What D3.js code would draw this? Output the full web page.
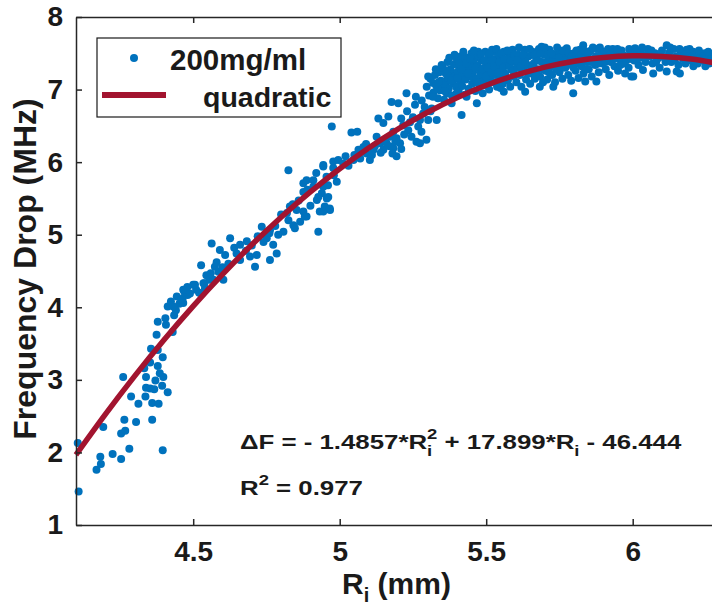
<!DOCTYPE html>
<html>
<head>
<meta charset="utf-8">
<script src="https://cdn.jsdelivr.net/npm/d3@7"></script>
<style>
  body { margin: 0; background: #fff; }
  svg { display: block; font-family: "Liberation Sans", Arial, sans-serif; }
</style>
</head>
<body>
<svg id="chart"></svg>
<script>
var width = 712;
var height = 613;

// axis ticks
var xTicks = [4.5, 5, 5.5, 6];
var yTicks = [1, 2, 3, 4, 5, 6, 7, 8];

// quadratic fit
var fitRi = [4.1, 4.2, 4.3, 4.4, 4.5, 4.6, 4.7, 4.8, 4.9, 5.0, 5.1, 5.2, 5.3, 5.4, 5.5, 5.6, 5.7, 5.8, 5.9, 6.0, 6.1, 6.2, 6.3];
var fitDF = [1.967, 2.524, 3.051, 3.549, 4.017, 4.454, 4.862, 5.241, 5.589, 5.908, 6.198, 6.458, 6.688, 6.888, 7.059, 7.198, 7.310, 7.391, 7.443, 7.465, 7.457, 7.420, 7.353];

// 200mg/ml measurements [Ri, dF]
var lowPoints = [
  [4.106,2.13],[4.109,1.46],[4.17,1.76],[4.185,1.84],[4.183,1.94],[4.225,1.98],[4.254,1.91],[4.282,2.05],
  [4.396,2.03],[4.193,2.35],[4.254,2.26],[4.268,2.30],[4.265,2.45],[4.305,2.42],[4.36,2.45],[4.313,2.67],
  [4.36,2.68],[4.382,2.67],[4.288,2.77],[4.337,2.77],[4.339,2.89],[4.353,2.88],[4.367,2.87],[4.413,2.83],
  [4.394,2.92],[4.261,3.04],[4.339,3.04],[4.371,2.99],[4.386,3.09],[4.398,3.04],[4.379,3.19],[4.396,3.31],
  [4.353,3.24],[4.333,3.16],[4.356,3.43],[4.379,3.41],[4.375,3.62],[4.379,3.80],[4.407,3.76],[4.405,3.85],
  [4.43,3.66],[4.413,4.01],[4.424,4.08],[4.441,3.96],[4.453,4.05],[4.464,4.12],[4.47,4.21],[4.481,4.17],
  [4.435,3.89],[4.432,4.01],[4.466,4.06],[4.444,4.15],[4.466,4.24],[4.489,4.19],[4.46,4.10],[4.48,4.28]
];

var midPoints = [
  [4.50,4.31],[4.51,4.24],[4.538,4.33],[4.555,4.38],[4.527,4.58],[4.545,4.44],[4.574,4.56],[4.586,4.49],
  [4.569,4.38],[4.603,4.38],[4.535,4.33],[4.506,4.31],[4.563,4.88],[4.591,4.79],[4.609,4.72],[4.648,4.74],
  [4.66,4.65],[4.694,4.70],[4.683,4.91],[4.717,4.72],[4.626,4.95],[4.711,4.56],[4.762,4.65],[4.734,5.11],
  [4.762,5.06],[4.751,4.95],[4.773,4.86],[4.785,4.74],[4.808,5.04],[4.825,5.20],[4.83,5.39],[4.853,5.34],
  [4.876,5.32],[4.887,5.25],[4.865,5.18],[4.842,5.13],[4.847,5.09],[4.825,5.89],[4.944,5.96],[4.978,6.01],
  [4.876,5.71],[4.91,5.75],[4.955,5.80],[4.939,5.57],[4.956,5.50],[4.922,5.48],[4.967,5.34],[4.944,5.32],
  [4.927,5.04],[4.881,5.25],[4.932,5.32],[4.949,5.39],[4.966,5.36],[4.887,5.75],[4.91,5.66],[4.944,5.66],
  [4.961,5.52],[4.927,5.52],[4.876,5.59],[4.944,5.94],[4.978,5.92],[4.995,6.03],[4.99,5.73],[4.973,6.49],
  [4.52,4.20],[4.54,4.26],[4.56,4.47],[4.58,4.62],[4.60,4.55],[4.62,4.60],[4.64,4.82],[4.66,4.86],
  [4.68,4.78],[4.70,4.85],[4.72,4.98],[4.74,4.90],[4.76,5.02],[4.78,5.12],[4.79,5.00],[4.80,5.28],
  [4.82,5.30],[4.84,5.42],[4.86,5.47],[4.89,5.62],[4.90,5.40],[4.92,5.85],[4.96,5.68],[4.98,5.82]
];

var risePoints = [
  [5.04,6.41],[5.06,6.42],[5.012,5.98],[5.047,6.03],[5.064,6.17],[5.081,6.21],[5.092,6.12],[5.103,6.03],
  [5.115,6.17],[5.138,6.26],[5.149,6.17],[5.16,6.26],[5.172,6.35],[5.183,6.19],[5.194,6.08],[5.206,6.26],
  [5.126,6.35],[5.132,6.60],[5.149,6.54],[5.166,6.63],[5.183,6.42],[5.194,6.33],[5.177,6.83],[5.2,6.81],
  [5.228,6.95],[5.257,6.79],[5.274,6.58],[5.262,6.28],[5.296,6.31],[5.234,6.44],[5.217,6.51],[5.285,6.67],
  [5.302,6.58],[5.268,6.49],[5.279,6.42],[5.274,6.26],[5.02,6.08],[5.03,5.95],[5.05,6.10],[5.07,6.05],
  [5.09,6.25],[5.11,6.10],[5.12,6.22],[5.14,6.13],[5.15,6.30],[5.17,6.22],[5.18,6.12],[5.19,6.28],
  [5.21,6.18],[5.22,6.38],[5.24,6.55],[5.25,6.62],[5.23,6.70],[5.21,6.60],[5.26,6.90],[5.28,6.85],
  [5.29,6.76],[5.31,6.70],[5.245,6.35],[5.314,6.74],[5.331,6.58]
];

var bandPoints = [
  [5.297,7.04],[5.319,7.09],[5.342,6.99],[5.365,7.13],[5.388,7.22],[5.41,7.32],[5.433,7.27],[5.456,7.36],
  [5.479,7.27],[5.502,7.34],[5.524,7.27],[5.365,6.95],[5.399,6.95],[5.433,6.90],[5.468,6.81],[5.416,6.65],
  [5.382,6.81],[5.473,7.52],[5.524,7.52],[5.549,7.02],[5.56,6.97],
  [5.305,6.92],[5.31,7.15],[5.32,6.96],[5.325,7.20],[5.33,7.05],[5.335,6.88],[5.34,7.24],[5.345,7.12],[5.35,7.02],
  [5.352,7.30],[5.356,6.86],[5.36,7.06],[5.362,7.22],[5.368,7.38],[5.372,7.01],[5.375,7.16],[5.378,7.28],
  [5.383,6.92],[5.386,7.09],[5.39,7.35],[5.394,7.18],[5.397,7.04],[5.40,7.42],
  [5.403,7.25],[5.406,6.98],[5.41,7.12],[5.414,7.46],[5.418,7.05],[5.42,7.20],[5.424,7.38],[5.428,6.93],
  [5.43,7.14],[5.436,7.44],[5.44,7.01],[5.443,7.30],[5.447,7.18],[5.45,7.50],
  [5.452,7.08],[5.455,7.24],[5.46,7.42],[5.463,6.98],[5.466,7.15],[5.47,7.33],[5.474,7.47],[5.477,7.05],
  [5.48,7.20],[5.485,7.40],[5.488,6.95],[5.49,7.12],[5.494,7.30],[5.497,7.52],[5.50,7.06],
  [5.503,7.22],[5.507,7.44],[5.51,7.00],[5.513,7.15],[5.517,7.36],[5.52,7.55],[5.526,7.10],[5.53,7.42],
  [5.533,7.20],[5.537,7.04],[5.54,7.32],[5.544,7.48],[5.548,7.16],[5.55,7.28],
  [5.553,7.40],[5.557,7.08],[5.56,7.52],[5.565,7.22],[5.57,7.35],[5.574,7.13],[5.578,7.46],[5.582,7.04],
  [5.586,7.28],[5.59,7.55],[5.594,7.18],[5.598,7.38],
  [5.302,7.18],[5.318,6.90],[5.328,7.28],[5.338,7.10],[5.348,7.34],[5.358,6.98],[5.366,7.26],[5.374,7.44],
  [5.381,7.12],[5.392,7.48],[5.401,7.16],[5.408,7.36],[5.416,7.28],[5.422,7.52],[5.432,7.36],[5.438,7.22],
  [5.445,7.42],[5.458,7.54],[5.462,7.30],[5.468,7.10],[5.482,7.48],[5.486,7.28],[5.492,7.40],[5.499,7.18],
  [5.505,7.30],[5.512,7.50],[5.518,7.24],[5.522,7.40],[5.528,7.32],[5.535,7.56],[5.542,7.24],[5.546,7.38],
  [5.552,7.50],[5.558,7.30],[5.562,7.42],[5.568,7.14],[5.572,7.54],[5.58,7.32],[5.584,7.40],[5.592,7.26],
  [5.596,7.48]
];

var plateauPoints = [
  [5.633,6.97],[5.683,7.04],[5.729,7.04],[5.797,6.95],[5.838,7.11],[5.876,7.11],[5.689,7.59],[5.831,7.61],
  [5.995,7.18],
  [5.603,7.10],[5.607,7.30],[5.61,7.48],[5.615,7.20],[5.62,7.04],[5.624,7.40],[5.628,7.26],[5.632,7.55],
  [5.636,7.14],[5.64,7.34],[5.645,7.46],[5.65,7.08],[5.654,7.22],[5.658,7.52],[5.662,7.36],[5.666,7.15],
  [5.67,7.44],[5.675,7.28],[5.68,7.56],[5.684,7.18],[5.69,7.38],[5.694,7.10],[5.698,7.48],[5.703,7.26],
  [5.708,7.14],[5.712,7.42],[5.716,7.55],[5.72,7.32],[5.725,7.20],[5.73,7.46],[5.735,7.10],[5.74,7.36],
  [5.745,7.52],[5.75,7.24],[5.755,7.40],[5.76,7.15],[5.765,7.48],[5.77,7.30],[5.775,7.57],[5.78,7.20],
  [5.785,7.42],[5.79,7.12],[5.795,7.35],[5.80,7.50],[5.805,7.26],[5.81,7.44],[5.815,7.16],[5.82,7.55],
  [5.826,7.32],[5.832,7.22],[5.838,7.46],[5.844,7.38],[5.85,7.28],[5.855,7.53],[5.86,7.18],[5.866,7.42],
  [5.872,7.34],[5.878,7.56],[5.884,7.24],[5.89,7.47],[5.896,7.36],[5.902,7.52],[5.908,7.28],[5.914,7.44],
  [5.92,7.20],[5.926,7.38],[5.932,7.56],[5.938,7.32],[5.944,7.48],[5.95,7.26],[5.956,7.42],[5.962,7.54],
  [5.968,7.36],[5.974,7.22],[5.98,7.46],[5.986,7.30],[5.992,7.52],
  [5.605,7.40],[5.612,7.58],[5.618,7.32],[5.626,7.48],[5.634,7.38],[5.642,7.22],[5.648,7.56],[5.656,7.30],
  [5.664,7.48],[5.672,7.22],[5.678,7.40],[5.686,7.50],[5.692,7.28],[5.70,7.58],[5.706,7.36],[5.714,7.24],
  [5.722,7.50],[5.728,7.38],[5.738,7.28],[5.742,7.58],[5.748,7.44],[5.758,7.30],[5.762,7.54],[5.768,7.40],
  [5.778,7.34],[5.782,7.50],[5.792,7.46],[5.798,7.30],[5.808,7.54],[5.818,7.36],[5.824,7.48],[5.834,7.54],
  [5.842,7.28],[5.848,7.50],[5.858,7.38],[5.864,7.58],[5.874,7.46],[5.882,7.36],[5.888,7.58],[5.898,7.44],
  [5.906,7.38],[5.916,7.56],[5.924,7.48],[5.936,7.42],[5.948,7.56],[5.958,7.34],[5.966,7.48],[5.978,7.40],
  [5.988,7.56],[5.996,7.42]
];

var tailPoints = [
  [6.002,7.18],[6.035,7.27],[6.07,7.22],[6.116,7.25],[6.15,7.25],[6.207,7.32],[6.248,7.32],[6.008,7.57],
  [6.116,7.61],[6.184,7.55],[6.161,7.22],
  [6.005,7.40],[6.012,7.48],[6.02,7.34],[6.028,7.52],[6.036,7.44],[6.044,7.38],[6.052,7.56],[6.06,7.46],
  [6.068,7.36],[6.076,7.50],[6.084,7.42],[6.092,7.30],[6.10,7.54],[6.108,7.44],[6.124,7.50],[6.132,7.38],
  [6.14,7.56],[6.148,7.46],[6.156,7.34],[6.164,7.50],[6.172,7.42],[6.18,7.36],[6.19,7.48],[6.198,7.40],
  [6.206,7.52],[6.214,7.44],[6.222,7.36],[6.23,7.48],[6.238,7.40],[6.246,7.50],[6.254,7.42],[6.262,7.36],
  [6.27,7.46],[6.278,7.40],[6.29,7.44],
  [6.016,7.42],[6.032,7.58],[6.048,7.48],[6.064,7.54],[6.08,7.38],[6.096,7.48],[6.112,7.38],[6.128,7.58],
  [6.144,7.42],[6.16,7.56],[6.176,7.48],[6.194,7.56],[6.21,7.40],[6.226,7.54],[6.242,7.46],[6.258,7.52],
  [6.274,7.38],[6.286,7.50]
];

var scatterPoints = lowPoints.concat(midPoints, risePoints, bandPoints, plateauPoints, tailPoints);

var dotColor = "#0072BD";
var fitColor = "#A2142F";
var inkColor = "#1a1a1a";
var axisColor = "#262626";

var svg = d3.select("#chart")
    .attr("width", width)
    .attr("height", height);

var xScale = d3.scaleLinear()
    .domain([4.1, 6.3])
    .range([76, 720.6]);

var yScale = d3.scaleLinear()
    .domain([1, 8])
    .range([525, 17]);

// scatter
svg.append("g")
  .selectAll("circle")
  .data(scatterPoints)
  .enter()
  .append("circle")
  .attr("cx", function(d) { return xScale(d[0]); })
  .attr("cy", function(d) { return yScale(d[1]); })
  .attr("r", 4)
  .attr("fill", dotColor);

// fit curve
var line = d3.line()
  .x(function(d, i) { return xScale(fitRi[i]); })
  .y(function(d) { return yScale(d); })
  .curve(d3.curveNatural);

svg.append("path")
  .datum(fitDF)
  .attr("d", line)
  .attr("fill", "none")
  .attr("stroke", fitColor)
  .attr("stroke-width", 5.5);

// axes
var xAxis = svg.append("g")
  .attr("transform", "translate(0,525)")
  .call(d3.axisBottom(xScale).tickValues(xTicks).tickSize(-6).tickSizeOuter(0).tickPadding(16)
    .tickFormat(function(d) { return d; }));

var xAxisTop = svg.append("g")
  .attr("transform", "translate(0,17)")
  .call(d3.axisTop(xScale).tickValues(xTicks).tickSize(-6).tickSizeOuter(0).tickFormat(""));

var yAxis = svg.append("g")
  .attr("transform", "translate(76,0)")
  .call(d3.axisLeft(yScale).tickValues(yTicks).tickSize(-6).tickSizeOuter(0).tickPadding(13)
    .tickFormat(d3.format("d")));

svg.selectAll(".domain, .tick line")
  .attr("stroke", axisColor)
  .attr("stroke-width", 1.5);

svg.selectAll(".tick text")
  .attr("fill", inkColor)
  .style("font-size", "28px")
  .style("font-weight", "bold");

// axis labels
var xLabel = svg.append("text")
  .attr("x", 342)
  .attr("y", 594)
  .attr("fill", inkColor)
  .style("font-size", "30px")
  .style("font-weight", "bold");
xLabel.append("tspan").text("R");
xLabel.append("tspan").attr("dy", 8).style("font-size", "20px").text("i");
xLabel.append("tspan").attr("dy", -8).text(" (mm)");

svg.append("text")
  .attr("transform", "translate(36,269) rotate(-90)")
  .attr("text-anchor", "middle")
  .attr("fill", inkColor)
  .style("font-size", "32px")
  .style("font-weight", "bold")
  .text("Frequency Drop (MHz)");

// equation
var eq = svg.append("text")
  .attr("transform", "translate(240,449) scale(1.23,1)")
  .attr("fill", inkColor)
  .style("font-size", "21px")
  .style("font-weight", "bold");
eq.append("tspan").text("\u0394F = - 1.4857*R");
eq.append("tspan").attr("dy", 7).style("font-size", "15px").text("i");
eq.append("tspan").attr("dx", -4.2).attr("dy", -17).style("font-size", "15px").text("2");
eq.append("tspan").attr("dy", 10).text(" + 17.899*R");
eq.append("tspan").attr("dy", 7).style("font-size", "15px").text("i");
eq.append("tspan").attr("dy", -7).text(" - 46.444");

var r2 = svg.append("text")
  .attr("transform", "translate(240,495) scale(1.23,1)")
  .attr("fill", inkColor)
  .style("font-size", "21px")
  .style("font-weight", "bold");
r2.append("tspan").text("R");
r2.append("tspan").attr("dy", -10).style("font-size", "15px").text("2");
r2.append("tspan").attr("dy", 10).text(" = 0.977");

// legend
var legend = svg.append("g");

legend.append("rect")
  .attr("x", 97)
  .attr("y", 38)
  .attr("width", 244)
  .attr("height", 79)
  .attr("fill", "#fff")
  .attr("stroke", inkColor)
  .attr("stroke-width", 1.2);

legend.append("circle")
  .attr("cx", 134)
  .attr("cy", 58)
  .attr("r", 4)
  .attr("fill", dotColor);

legend.append("line")
  .attr("x1", 102)
  .attr("x2", 166)
  .attr("y1", 95)
  .attr("y2", 95)
  .attr("stroke", fitColor)
  .attr("stroke-width", 6);

legend.append("text")
  .attr("x", 170)
  .attr("y", 70)
  .attr("fill", inkColor)
  .style("font-size", "29.5px")
  .style("font-weight", "bold")
  .text("200mg/ml");

legend.append("text")
  .attr("x", 203)
  .attr("y", 107)
  .attr("fill", inkColor)
  .style("font-size", "28.5px")
  .style("font-weight", "bold")
  .text("quadratic");
</script>
</body>
</html>
